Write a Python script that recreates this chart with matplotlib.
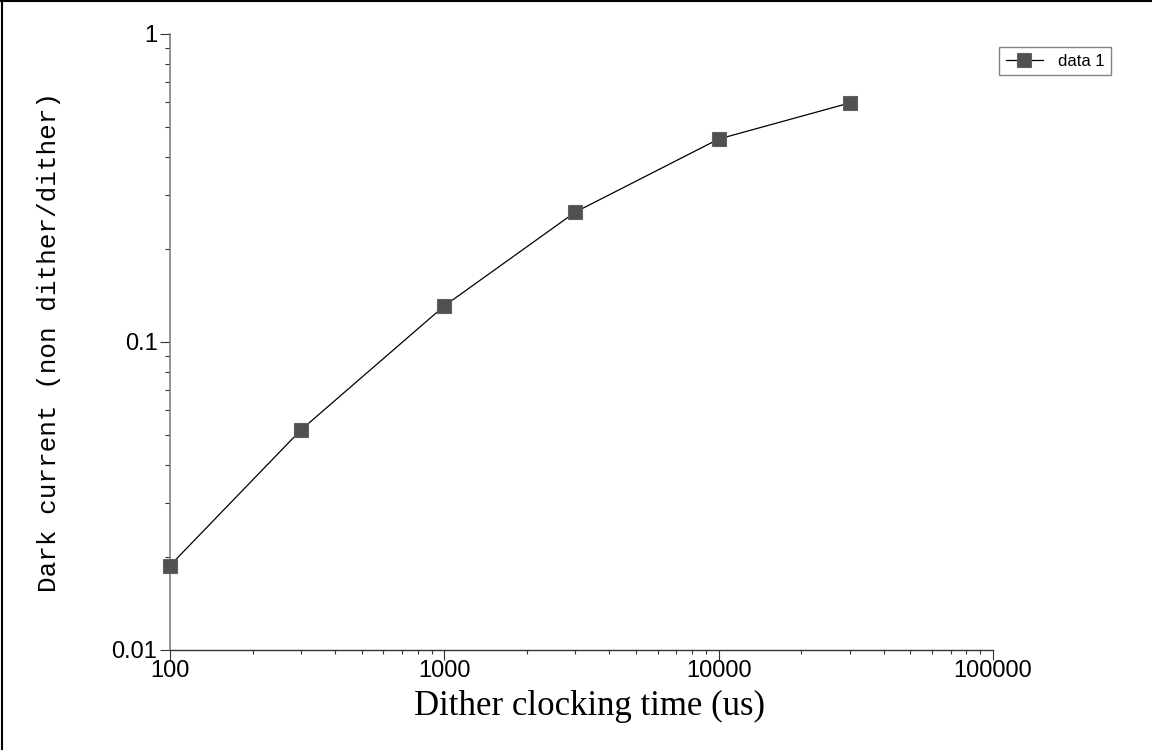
import matplotlib
matplotlib.use("Agg")
import matplotlib.pyplot as plt
from matplotlib.lines import Line2D
from matplotlib.ticker import LogLocator, FixedLocator, NullFormatter

# dither clocking time vs dark current ratio
clock_us = [100, 300, 1000, 3000, 10000, 30000]
dark_ratio = [0.0188, 0.0518, 0.131, 0.264, 0.456, 0.597]
x_ticks = [100, 1000, 10000, 100000]
x_labels = ["100", "1000", "10000", "100000"]
y_ticks = [0.01, 0.1, 1]
y_labels = ["0.01", "0.1", "1"]

fig = plt.figure(figsize=(11.52, 7.5), dpi=100)
ax = fig.add_axes([170 / 1152, 1 - 650 / 750, (993 - 170) / 1152, (650 - 34) / 750])

ax.plot(clock_us, dark_ratio, color="black", lw=0.9, marker="s", markersize=10.5,
        markerfacecolor="#505050", markeredgecolor="#606060", markeredgewidth=0.8,
        label="data 1", zorder=3, clip_on=False)

ax.set_xscale("log")
ax.set_yscale("log")
ax.set_xlim(100, 100000)
ax.set_ylim(0.01, 1)

ax.xaxis.set_major_locator(FixedLocator(x_ticks))
ax.set_xticklabels(x_labels)
ax.yaxis.set_major_locator(FixedLocator(y_ticks))
ax.set_yticklabels(y_labels)
ax.xaxis.set_minor_locator(LogLocator(base=10, subs=range(2, 10)))
ax.yaxis.set_minor_locator(LogLocator(base=10, subs=range(2, 10)))
ax.xaxis.set_minor_formatter(NullFormatter())
ax.yaxis.set_minor_formatter(NullFormatter())

for lab in ax.get_xticklabels() + ax.get_yticklabels():
    lab.set_family("Liberation Sans")
    lab.set_fontsize(17)

ax.tick_params(axis="x", which="major", direction="out", length=7, width=0.8, pad=0, color="#333333")
ax.tick_params(axis="x", which="minor", direction="out", length=3, width=0.8, color="#333333")
ax.tick_params(axis="y", which="major", direction="out", length=7, width=0.8, pad=2, color="#333333")
ax.tick_params(axis="y", which="minor", direction="out", length=3.5, width=0.8, color="#333333")

ax.spines["top"].set_visible(False)
ax.spines["right"].set_visible(False)
ax.spines["left"].set_color("#808080")
ax.spines["left"].set_linewidth(1.2)
ax.spines["bottom"].set_color("#333333")
ax.spines["bottom"].set_linewidth(1.0)

ax.set_xlabel("Dither clocking time (us)", family="Liberation Serif", fontsize=25)
ax.xaxis.set_label_coords(590 / 1152, 1 - 690 / 750, transform=fig.transFigure)
ax.set_ylabel("Dark current (non dither/dither)", family="Liberation Mono", fontsize=18.7)
ax.yaxis.set_label_coords(61 / 1152, 1 - 342 / 750, transform=fig.transFigure)

leg = ax.legend(loc="upper right", bbox_to_anchor=(1111 / 1152, 1 - 47 / 750),
                bbox_transform=fig.transFigure, prop={"family": "Liberation Sans", "size": 12},
                frameon=True, fancybox=False, handlelength=2.2, borderpad=0.4,
                handletextpad=0.9, borderaxespad=0)
leg.get_frame().set_edgecolor("#666666")
leg.get_frame().set_linewidth(1.0)

# frame lines along the top and left edges of the figure
fig.add_artist(Line2D([0.002, 0.002], [0, 1], transform=fig.transFigure, color="black", lw=1.5))
fig.add_artist(Line2D([0, 1], [0.999, 0.999], transform=fig.transFigure, color="black", lw=1.5))

fig.savefig("out.png", dpi=100)
